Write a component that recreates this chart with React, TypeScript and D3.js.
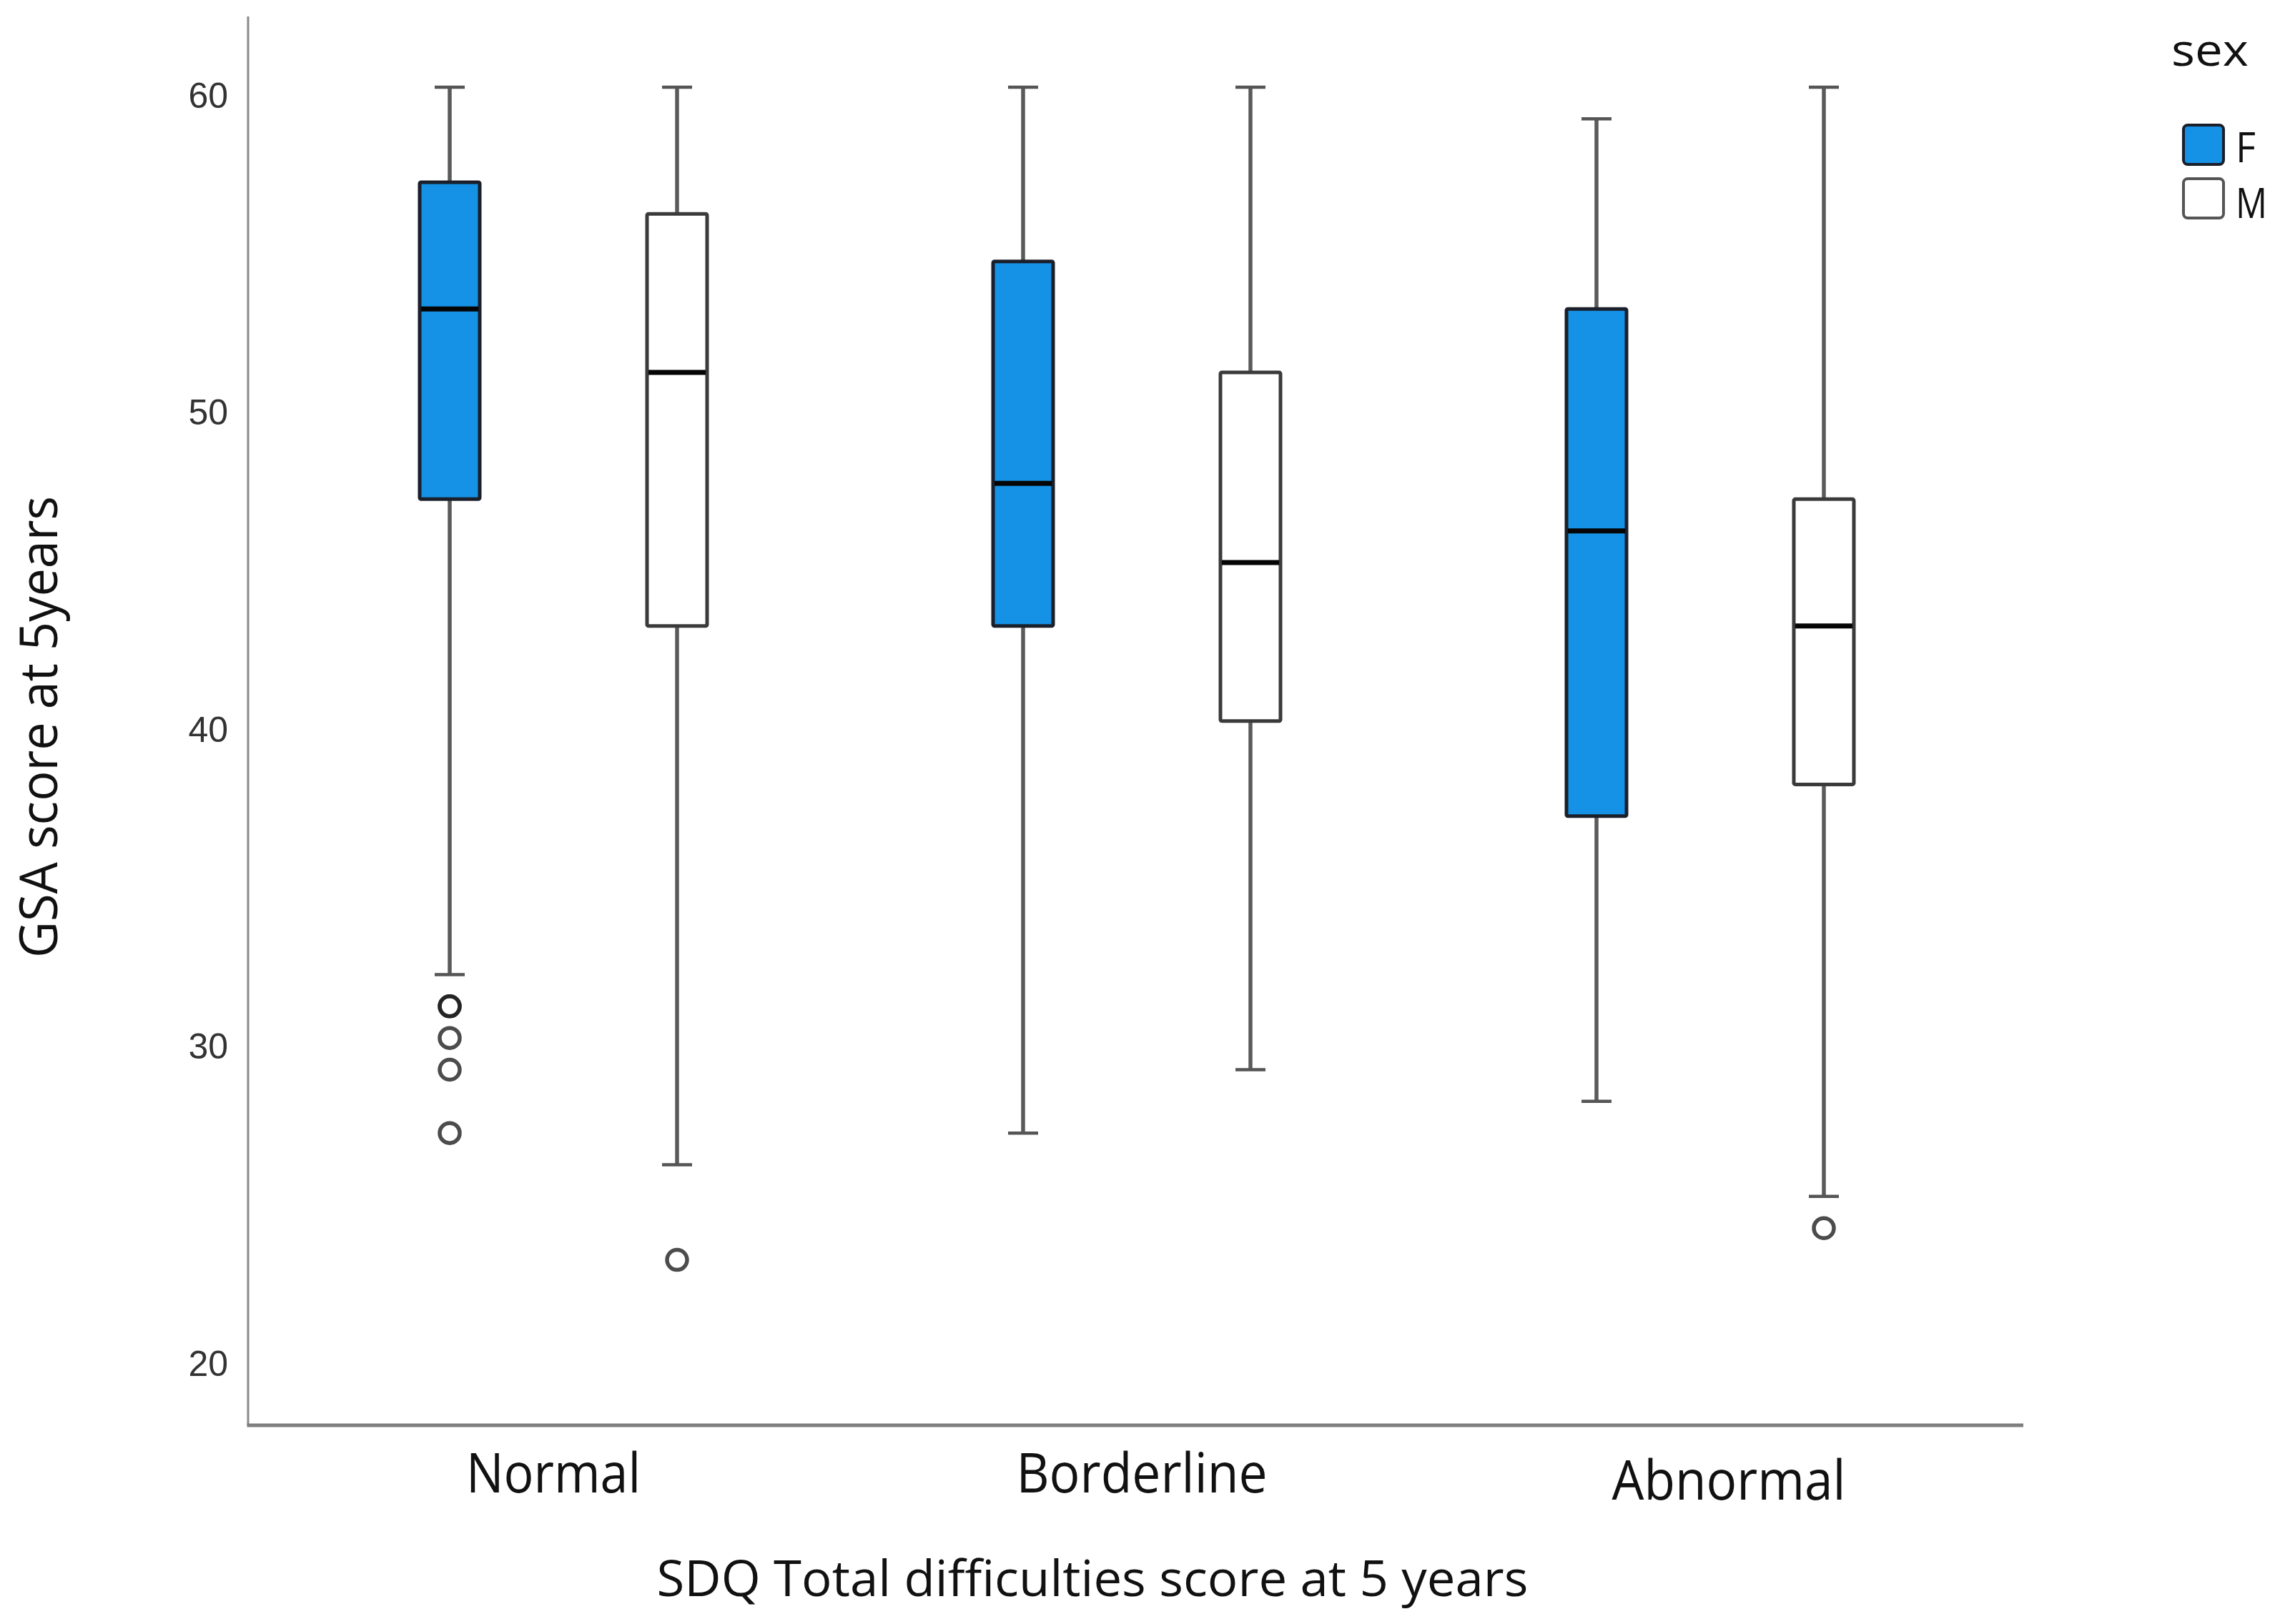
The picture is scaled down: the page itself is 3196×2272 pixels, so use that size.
import React from "react";
import * as d3 from "d3";

// ---- data ----
const categories = ["Normal", "Borderline", "Abnormal"];
const sexes = ["F", "M"];
const whiskerLowF = [32, 27, 28];
const whiskerLowM = [26, 29, 25];
const q1F = [47, 43, 37];
const q1M = [43, 40, 38];
const medianF = [53, 47.5, 46];
const medianM = [51, 45, 43];
const q3F = [57, 54.5, 53];
const q3M = [56, 51, 47];
const whiskerHighF = [60, 60, 59];
const whiskerHighM = [60, 60, 60];
const outliersF = [[31, 31, 30, 29, 27], [], []];
const outliersM = [[23], [], [24]];
const yTicks = [20, 30, 40, 50, 60];
const xTitle = "SDQ Total difficulties score at 5 years";
const yTitle = "GSA score at 5years";
const legendTitle = "sex";

// ---- styles ----
const W = 3196;
const H = 2272;
const BLUE = "#1591e5";
const TEXT_FONT = "'Open Sans', 'Noto Sans', sans-serif";
const TICK_FONT = "'Liberation Sans', Arial, sans-serif";
const labelDx = [-14, 7, 26];
const labelDy = [0, 0, 10];
const labelWidths = [244, 351, 327];

type Box = {
  cat: string;
  sex: string;
  lo: number;
  q1: number;
  med: number;
  q3: number;
  hi: number;
  out: number[];
};

const boxes: Box[] = [];
categories.forEach((c, i) => {
  boxes.push({ cat: c, sex: "F", lo: whiskerLowF[i], q1: q1F[i], med: medianF[i], q3: q3F[i], hi: whiskerHighF[i], out: outliersF[i] });
  boxes.push({ cat: c, sex: "M", lo: whiskerLowM[i], q1: q1M[i], med: medianM[i], q3: q3M[i], hi: whiskerHighM[i], out: outliersM[i] });
});

export default function App() {
  const axisX = 347;
  const axisY = 1994;
  const axisTop = 23;
  const axisRight = 2830;

  const y = d3.scaleLinear().domain([17.78, 62.23]).range([axisY, axisTop]);
  const x0 = d3.scaleBand<string>().domain(categories).range([387, 2793]).padding(0);
  const x1 = d3.scalePoint<string>().domain(sexes).range([0, x0.bandwidth()]).padding(0.761);

  const boxW = 84;
  const capW = 42;

  return (
    <svg
      width={W}
      height={H}
      viewBox={`0 0 ${W} ${H}`}
      style={{ position: "absolute", left: 0, top: 0, background: "#fff" }}
    >
      <rect x={0} y={0} width={W} height={H} fill="#fff" />

      {/* axes */}
      <line x1={axisX} x2={axisX} y1={axisTop} y2={axisY} stroke="#8a8a8a" strokeWidth={3} />
      <line x1={axisX - 1.5} x2={axisRight} y1={axisY} y2={axisY} stroke="#7e7e7e" strokeWidth={5} />

      {/* y tick labels */}
      {yTicks.map((t) => (
        <text
          key={t}
          x={319}
          y={y(t) + 29}
          textAnchor="end"
          fontFamily={TICK_FONT}
          fontSize={50}
          fill="#333"
        >
          {t}
        </text>
      ))}

      {/* boxes */}
      {boxes.map((b, i) => {
        const cx = (x0(b.cat) ?? 0) + (x1(b.sex) ?? 0);
        const isF = b.sex === "F";
        return (
          <g key={i}>
            <line x1={cx} x2={cx} y1={y(b.hi)} y2={y(b.q3)} stroke="#5a5a5a" strokeWidth={5.5} />
            <line x1={cx} x2={cx} y1={y(b.q1)} y2={y(b.lo)} stroke="#5a5a5a" strokeWidth={5.5} />
            <line x1={cx - capW / 2} x2={cx + capW / 2} y1={y(b.hi)} y2={y(b.hi)} stroke="#555" strokeWidth={4.5} />
            <line x1={cx - capW / 2} x2={cx + capW / 2} y1={y(b.lo)} y2={y(b.lo)} stroke="#555" strokeWidth={4.5} />
            <rect
              x={cx - boxW / 2}
              y={y(b.q3)}
              width={boxW}
              height={y(b.q1) - y(b.q3)}
              fill={isF ? BLUE : "#fff"}
              stroke={isF ? "#1a1f2a" : "#3a3a3a"}
              strokeWidth={5}
              rx={2}
            />
            <line
              x1={cx - boxW / 2 + 2}
              x2={cx + boxW / 2 - 2}
              y1={y(b.med)}
              y2={y(b.med)}
              stroke="#050505"
              strokeWidth={7}
            />
            {b.out.map((o, j) => (
              <circle
                key={j}
                cx={cx}
                cy={y(o)}
                r={14}
                fill="none"
                stroke="#1a1a1a"
                strokeOpacity={0.78}
                strokeWidth={5.5}
              />
            ))}
          </g>
        );
      })}

      {/* category labels */}
      {categories.map((c, i) => (
        <text
          key={c}
          x={(x0(c) ?? 0) + x0.bandwidth() / 2 + labelDx[i]}
          y={2088 + labelDy[i]}
          textAnchor="middle"
          fontFamily={TEXT_FONT}
          fontSize={76}
          fill="#111"
          textLength={labelWidths[i]}
          lengthAdjust="spacingAndGlyphs"
        >
          {c}
        </text>
      ))}

      {/* axis titles */}
      <text
        x={1528}
        y={2233}
        textAnchor="middle"
        fontFamily={TEXT_FONT}
        fontSize={70}
        fill="#111"
        textLength={1219}
        lengthAdjust="spacingAndGlyphs"
      >
        {xTitle}
      </text>
      <text
        transform={`translate(80,1017) rotate(-90)`}
        textAnchor="middle"
        fontFamily={TEXT_FONT}
        fontSize={73}
        fill="#111"
        textLength={646}
        lengthAdjust="spacingAndGlyphs"
      >
        {yTitle}
      </text>

      {/* legend */}
      <text
        x={3037}
        y={92}
        fontFamily={TEXT_FONT}
        fontSize={62}
        fill="#111"
        textLength={108}
        lengthAdjust="spacingAndGlyphs"
      >
        {legendTitle}
      </text>
      {sexes.map((s, i) => (
        <g key={s}>
          <rect
            x={3054}
            y={175 + i * 75}
            width={56}
            height={55}
            rx={6}
            fill={s === "F" ? BLUE : "#fff"}
            stroke={s === "F" ? "#1a1f2a" : "#555"}
            strokeWidth={4}
          />
          <text
            x={3127}
            y={227 + i * 78}
            fontFamily={TEXT_FONT}
            fontSize={58}
            fill="#111"
            textLength={s === "F" ? 28 : 44}
            lengthAdjust="spacingAndGlyphs"
          >
            {s}
          </text>
        </g>
      ))}
    </svg>
  );
}
